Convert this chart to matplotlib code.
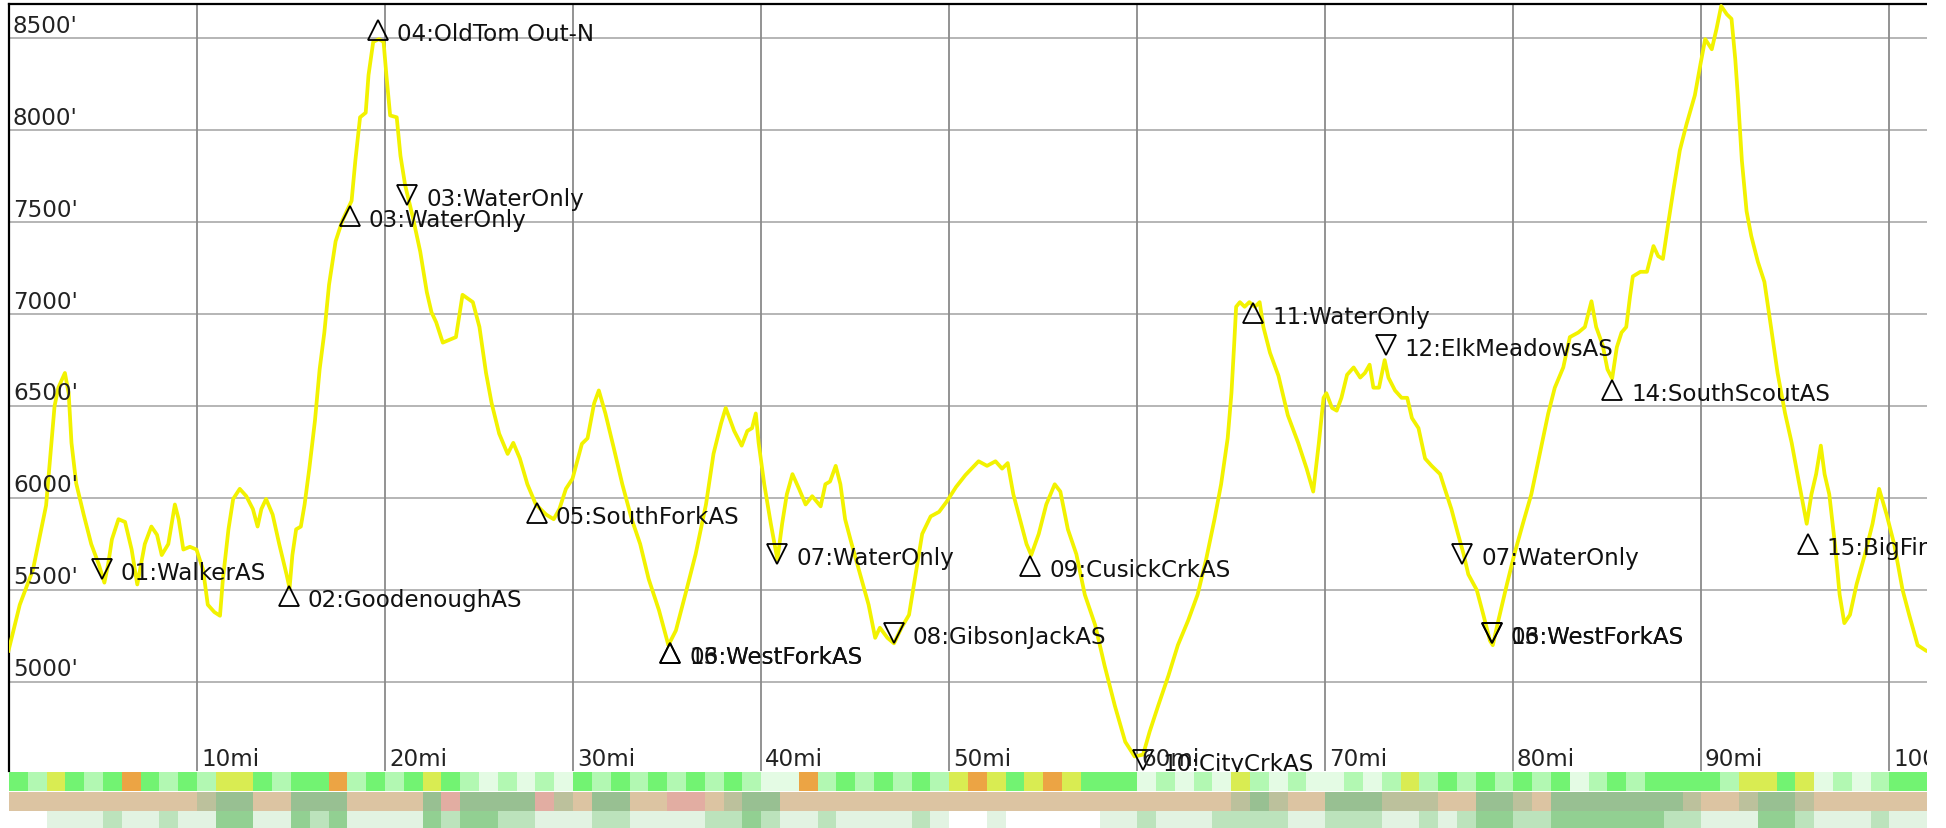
import matplotlib
matplotlib.use("Agg")
import matplotlib.pyplot as plt
import numpy as np
from matplotlib.patches import Rectangle
from matplotlib.colors import to_rgb

# ---------------- data ----------------
miles = [0.0, 0.6, 1.3, 2.0, 2.45, 2.65, 3.0, 3.2, 3.35, 3.6, 4.0, 4.4, 4.8, 5.1, 5.3, 5.5, 5.85, 6.2,
         6.55, 6.85, 7.25, 7.6, 7.9, 8.15, 8.5, 8.85, 9.05, 9.3, 9.65, 10.0, 10.35, 10.6, 10.95, 11.25,
         11.4, 11.7, 11.95, 12.3, 12.65, 13.0, 13.25, 13.45, 13.7, 14.05, 14.4, 14.8, 14.95, 15.1, 15.3,
         15.55, 15.75, 16.0, 16.3, 16.55, 16.8, 17.05, 17.4, 17.75, 18.25, 18.45, 18.7, 19.0, 19.15, 19.4,
         19.7, 19.95, 20.1, 20.3, 20.65, 20.85, 21.1, 21.5, 21.9, 22.25, 22.5, 22.75, 23.1, 23.45, 23.8,
         24.15, 24.7, 25.05, 25.4, 25.7, 26.1, 26.55, 26.85, 27.2, 27.6, 28.05, 28.6, 29.0, 29.3, 29.65,
         30.0, 30.5, 30.8, 31.15, 31.4, 31.75, 32.2, 32.65, 33.15, 33.6, 34.05, 34.6, 35.1, 35.5, 36.0,
         36.55, 37.1, 37.5, 37.9, 38.15, 38.6, 39.0, 39.3, 39.55, 39.75, 39.9, 40.2, 40.55, 40.9, 41.15,
         41.4, 41.7, 42.05, 42.4, 42.75, 43.2, 43.45, 43.7, 44.0, 44.25, 44.5, 44.85, 45.3, 45.75, 46.1,
         46.35, 46.75, 47.1, 47.5, 47.9, 48.25, 48.6, 49.05, 49.5, 49.9, 50.4, 50.9, 51.6, 52.05, 52.5,
         52.85, 53.15, 53.45, 53.8, 54.15, 54.4, 54.8, 55.2, 55.65, 55.95, 56.35, 56.8, 57.25, 57.8, 58.3,
         58.85, 59.4, 59.9, 60.35, 60.7, 61.15, 61.7, 62.2, 62.75, 63.25, 63.7, 64.15, 64.5, 64.85, 65.05,
         65.2, 65.3, 65.5, 65.75, 66.0, 66.3, 66.55, 66.75, 67.1, 67.55, 68.05, 68.6, 69.05, 69.4, 69.7,
         69.95, 70.1, 70.4, 70.65, 70.9, 71.2, 71.55, 71.9, 72.15, 72.4, 72.6, 72.9, 73.2, 73.4, 73.75,
         74.1, 74.4, 74.65, 75.0, 75.35, 75.7, 76.15, 76.4, 76.75, 77.1, 77.4, 77.65, 78.1, 78.45, 78.8,
         78.95, 79.25, 79.7, 80.1, 80.55, 81.0, 81.45, 81.9, 82.25, 82.7, 83.05, 83.5, 83.85, 84.2, 84.45,
         84.8, 85.05, 85.3, 85.55, 85.8, 86.05, 86.25, 86.4, 86.8, 87.15, 87.5, 87.75, 88.0, 88.3, 88.55,
         88.9, 89.25, 89.7, 90.0, 90.25, 90.6, 90.85, 91.1, 91.4, 91.65, 91.85, 92.0, 92.2, 92.45, 92.7,
         93.05, 93.4, 93.75, 94.1, 94.5, 94.85, 95.2, 95.65, 95.9, 96.15, 96.4, 96.6, 96.85, 97.15, 97.4,
         97.65, 97.95, 98.3, 98.75, 99.15, 99.5, 99.9, 100.3, 100.75, 101.1, 101.55, 102.0, 102.6]
elev = [5170, 5420, 5610, 5960, 6500, 6600, 6680, 6570, 6300, 6080, 5910, 5750, 5640, 5540, 5640, 5775, 5885, 5870,
        5720, 5530, 5750, 5845, 5800, 5690, 5750, 5965, 5885, 5720, 5735, 5720, 5610, 5420, 5380, 5360,
        5555, 5830, 5995, 6050, 6010, 5940, 5845, 5940, 5995, 5910, 5750, 5580, 5510, 5690, 5830,
        5845, 5965, 6160, 6420, 6700, 6900, 7160, 7396, 7506, 7616, 7835, 8070, 8095, 8300, 8480,
        8495, 8480, 8300, 8080, 8070, 7860, 7700, 7530, 7340, 7120, 7010, 6955, 6845, 6860, 6875,
        7105, 7065, 6930, 6680, 6515, 6350, 6240, 6300, 6215, 6075, 5965, 5910, 5885, 5940, 6050,
        6105, 6295, 6325, 6515, 6585, 6460, 6270, 6075, 5885, 5750, 5560, 5390, 5200, 5280, 5475,
        5695, 5965, 6240, 6405, 6490, 6365, 6285, 6365, 6380, 6460, 6300, 6075, 5860, 5665, 5860,
        6020, 6130, 6050, 5965, 6010, 5955, 6075, 6090, 6175, 6075, 5885, 5750, 5585, 5420, 5240,
        5295, 5240, 5210, 5295, 5365, 5585, 5805, 5900, 5925, 5980, 6060, 6125, 6200, 6175, 6200,
        6160, 6190, 6020, 5885, 5750, 5690, 5805, 5965, 6075, 6035, 5830, 5695, 5475, 5310, 5090,
        4870, 4675, 4595, 4605, 4730, 4870, 5035, 5200, 5335, 5475, 5665, 5885, 6075, 6325, 6570,
        6845, 7040, 7065, 7040, 7065, 7040, 7065, 6930, 6790, 6665, 6450, 6300, 6160, 6035, 6300,
        6545, 6570, 6490, 6475, 6545, 6670, 6710, 6655, 6680, 6725, 6600, 6600, 6750, 6655, 6585,
        6545, 6545, 6435, 6380, 6215, 6175, 6130, 6050, 5940, 5805, 5695, 5585, 5500, 5365, 5225,
        5200, 5335, 5530, 5695, 5860, 6020, 6240, 6460, 6600, 6710, 6875, 6900, 6930, 7070, 6930,
        6830, 6700, 6650, 6820, 6900, 6930, 7095, 7205, 7230, 7230, 7370, 7315, 7300, 7505, 7670,
        7890, 8030, 8190, 8360, 8495, 8440, 8550, 8675, 8630, 8605, 8385, 8165, 7835, 7560, 7425,
        7285, 7175, 6930, 6680, 6460, 6300, 6105, 5860, 6020, 6130, 6285, 6130, 6020, 5750, 5475,
        5320, 5365, 5530, 5695, 5860, 6050, 5910, 5750, 5500, 5365, 5200, 5170, 5150]

wp_miles = [4.97, 14.9, 18.15, 19.66, 21.2, 28.1, 35.2, 35.2, 40.88, 47.1, 54.34, 60.35,
            66.2, 73.25, 77.34, 78.9, 78.9, 85.3, 95.7]
wp_elev = [5615, 5470, 7535, 8542, 7648, 5920, 5160, 5160, 5697, 5265, 5632, 4574,
           7004, 6830, 5697, 5265, 5265, 6588, 5750]
wp_dir = ["v", "^", "^", "^", "v", "^", "^", "^", "v", "v", "^", "v",
          "^", "v", "v", "v", "v", "^", "^"]
wp_names = ["01:WalkerAS", "02:GoodenoughAS", "03:WaterOnly", "04:OldTom Out-N", "03:WaterOnly",
            "05:SouthForkAS", "06:WestForkAS", "13:WestForkAS", "07:WaterOnly", "08:GibsonJackAS",
            "09:CusickCrkAS", "10:CityCrkAS", "11:WaterOnly", "12:ElkMeadowsAS", "07:WaterOnly",
            "06:WestForkAS", "13:WestForkAS", "14:SouthScoutAS", "15:BigFirAS"]

x_ticks = [10, 20, 30, 40, 50, 60, 70, 80, 90, 100]
x_tick_labels = ["10mi", "20mi", "30mi", "40mi", "50mi", "60mi", "70mi", "80mi", "90mi", "100mi"]
y_ticks = [5000, 5500, 6000, 6500, 7000, 7500, 8000, 8500]
y_tick_labels = ["5000'", "5500'", "6000'", "6500'", "7000'", "7500'", "8000'", "8500'"]

# per-mile strip codes (mile 0 .. 102), ten miles per chunk
strip_pace = "".join(["GLYGLGOGLG", "LYYGLGGOLG", "LGYGLPLPLP", "GLGLGLGLGL", "PPOLGLGLGL",
                      "YOYGYOYGGG", "PLPLPYLPLP", "PLPLYLGLGL", "GLGPLGLGGG", "GLYYGYPLPL", "GGG"])
strip_cover = "".join(["TTTTTTTTTT", "mggTTgggTT", "TTgpggggpm", "TggTTppTmg", "gTTTTTTTTT",
                       "TTTTTTTTTT", "TTTTTmgmTT", "gggmmmTTgg", "mTgggggggm", "TTmggmTTTT", "TTp"])
strip_veg = [0, 0, 1, 1, 1, 2, 1, 1, 2, 1, 1, 3, 3, 1, 1, 3, 2, 3, 1, 1, 1, 1, 3, 2, 3, 3, 2, 2, 1, 1,
             1, 2, 2, 1, 1, 1, 1, 2, 2, 3, 2, 1, 1, 2, 1, 1, 1, 1, 2, 1, 0, 0, 1, 0, 0, 0, 0, 0, 1, 1,
             2, 1, 1, 1, 2, 2, 2, 2, 1, 1, 2, 2, 2, 1, 1, 2, 1, 2, 3, 3, 2, 2, 3, 3, 3, 3, 3, 3, 2, 2,
             1, 1, 1, 3, 3, 2, 1, 1, 1, 2, 1, 1, 1]

# ---------------- layout ----------------
W, H, DPI = 1946, 829, 100
fig = plt.figure(figsize=(W / DPI, H / DPI), dpi=DPI)
fig.patch.set_facecolor("white")

AX_L, AX_R, AX_T, AX_B = 8.5, 1927.0, 5.0, 772.0
PX_PER_MI = 18.8
XMAX = (AX_R - AX_L) / PX_PER_MI
YMIN, YMAX = 4516, 8686
FS = 23 * 72 / DPI  # 23 px font


def rect(l, t, r, b):
    return [l / W, 1 - b / H, (r - l) / W, (b - t) / H]


ax = fig.add_axes(rect(AX_L, AX_T, AX_R, AX_B))
ax.set_xlim(0, XMAX)
ax.set_ylim(YMIN, YMAX)
ax.set_xticks([])
ax.set_yticks([])
for s in ["right", "bottom"]:
    ax.spines[s].set_visible(False)
for s in ["top", "left"]:
    ax.spines[s].set_color("black")
    ax.spines[s].set_linewidth(1.6)

for yv in y_ticks:
    ax.axhline(yv, color="#b0b0b0", lw=1.3, zorder=1)
for xv in x_ticks:
    ax.axvline(xv, color="#8a8a8a", lw=1.3, zorder=1)

ax.plot(miles, elev, color="#f2f200", lw=2.7, zorder=3, solid_joinstyle="round")

for lab, yv in zip(y_tick_labels, y_ticks):
    ax.annotate(lab, xy=(0, yv), xycoords=("axes fraction", "data"), xytext=(4.4, 6.6),
                textcoords="offset pixels", ha="left", va="baseline", fontsize=FS,
                color="#222222", zorder=5)
for lab, xv in zip(x_tick_labels, x_ticks):
    ax.annotate(lab, xy=(xv, 0), xycoords=("data", "axes fraction"), xytext=(4.5, 6.0),
                textcoords="offset pixels", ha="left", va="baseline", fontsize=FS,
                color="#222222", zorder=5)

for m, e, d, name in zip(wp_miles, wp_elev, wp_dir, wp_names):
    ax.plot([m], [e], marker=d, ms=14.4, mfc="none", mec="black", mew=1.3, zorder=4,
            linestyle="none")
    ax.annotate(name, xy=(m, e), xytext=(19, -10), textcoords="offset pixels",
                ha="left", va="baseline", fontsize=FS, color="#111111", zorder=6,
                annotation_clip=False)

# ---------------- strips ----------------
pace_colors = {"G": "#72f372", "L": "#b2f8b2", "P": "#e4fbe4", "Y": "#d9ec52", "O": "#eca444"}
cover_colors = {"T": "#dcc4a2", "g": "#98c092", "p": "#e2ada2", "m": "#bcc19c"}
veg_colors = ["#ffffff", "#e2f3e2", "#bce3bc", "#92d092"]


def strip_axes(top, bottom, rgb_row):
    sa = fig.add_axes(rect(AX_L, top, AX_R, bottom))
    img = np.array(rgb_row)[None, :, :]
    sa.imshow(img, aspect="auto", extent=(0, len(rgb_row), 0, 1), interpolation="nearest")
    sa.set_xlim(0, XMAX)
    sa.set_ylim(0, 1)
    sa.axis("off")
    return sa


strip_axes(772.5, 792, [to_rgb(pace_colors[c]) for c in strip_pace])
strip_axes(793, 811.5, [to_rgb(cover_colors[c]) for c in strip_cover])
strip_axes(812, 829, [to_rgb(veg_colors[v]) for v in strip_veg])

# white margin at the right edge (the rendered image stops there)
fig.add_artist(Rectangle((AX_R / W, 0), 1 - AX_R / W, 1, transform=fig.transFigure,
                         facecolor="white", edgecolor="none", zorder=50))

fig.savefig("out.png", dpi=DPI, facecolor="white")
